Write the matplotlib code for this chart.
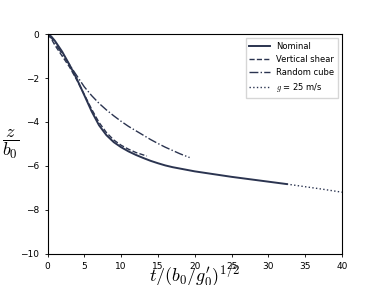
import matplotlib

matplotlib.use("Agg")
import matplotlib.pyplot as plt

# Nominal descent
t_nominal = [0, 0.5, 1, 2, 3, 4, 5, 6, 7, 8, 9, 10, 11, 12, 13, 14, 15, 16, 17, 20, 25, 30, 32.5]
z_nominal = [0, -0.1, -0.3, -0.8, -1.4, -2.05, -2.78, -3.52, -4.15, -4.6, -4.92, -5.15,
             -5.34, -5.5, -5.64, -5.77, -5.88, -5.98, -6.06, -6.25, -6.5, -6.72, -6.83]

# Vertical shear
t_shear = [0, 0.5, 1, 2, 3, 4, 5, 6, 7, 8, 9, 10, 11, 12, 13, 13.5]
z_shear = [0, -0.2, -0.5, -1.0, -1.5, -2.1, -2.75, -3.42, -4.02, -4.48, -4.82, -5.06,
           -5.24, -5.39, -5.5, -5.55]

# Random cube
t_cube = [0, 0.5, 1, 2, 3, 4, 5, 6, 7, 8, 9, 10, 11, 12, 13, 14, 15, 16, 17, 18, 19.3]
z_cube = [0, -0.15, -0.4, -0.9, -1.4, -1.9, -2.4, -2.8, -3.15, -3.45, -3.72, -3.97,
          -4.2, -4.4, -4.6, -4.8, -4.98, -5.15, -5.3, -5.45, -5.62]

# g = 25 m/s extension
t_g25 = [32.5, 35, 37.5, 40]
z_g25 = [-6.83, -6.95, -7.07, -7.2]

color = "#2b3450"
plt.rcParams["mathtext.fontset"] = "cm"

fig, ax = plt.subplots(figsize=(3.8, 2.85), dpi=100)
ax.plot(t_nominal, z_nominal, color=color, lw=1.4, ls="-", label="Nominal")
ax.plot(t_shear, z_shear, color=color, lw=1.0, ls="--", label="Vertical shear")
ax.plot(t_cube, z_cube, color=color, lw=1.0, ls="-.", label="Random cube")
ax.plot(t_g25, z_g25, color=color, lw=1.0, ls=":", label="$g$ = 25 m/s")

ax.set_xlim(0, 40)
ax.set_ylim(-10, 0)
ax.set_xticks(range(0, 41, 5))
ax.set_yticks(range(-10, 1, 2))
ax.tick_params(labelsize=6.5, length=2.5, width=0.6)
for spine in ax.spines.values():
    spine.set_linewidth(0.8)

ax.set_xlabel(r"$t/(b_0/g_0')^{1/2}$", fontsize=13, labelpad=-6)
ax.set_ylabel(r"$\dfrac{z}{b_0}$", fontsize=13, rotation=0, labelpad=7, va="center")
ax.legend(fontsize=6, loc="upper right", handlelength=2.5, frameon=True,
          fancybox=False, edgecolor="#cccccc")

fig.savefig("out.png", dpi=100)
